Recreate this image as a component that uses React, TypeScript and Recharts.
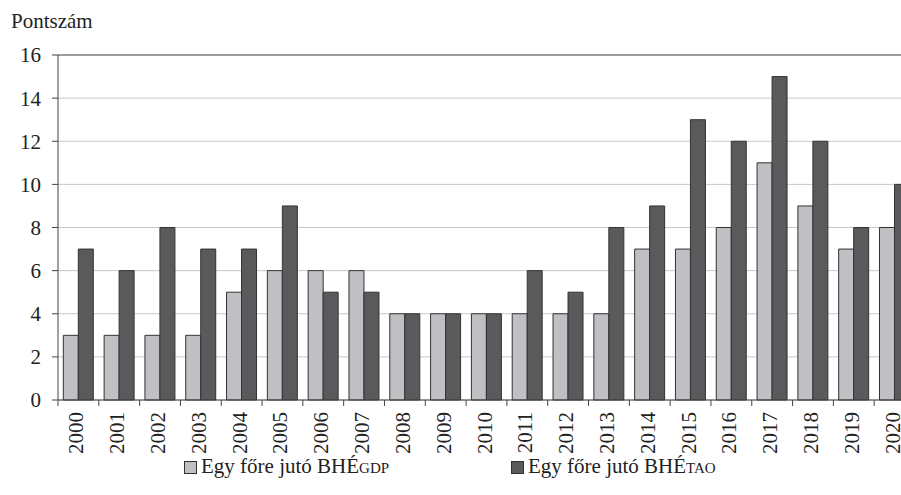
import { BarChart, Bar, XAxis, YAxis, CartesianGrid, Legend, ReferenceLine } from "recharts";

const years = [
  "2000", "2001", "2002", "2003", "2004", "2005", "2006", "2007", "2008", "2009", "2010",
  "2011", "2012", "2013", "2014", "2015", "2016", "2017", "2018", "2019", "2020",
];
const gdpValues = [3, 3, 3, 3, 5, 6, 6, 6, 4, 4, 4, 4, 4, 4, 7, 7, 8, 11, 9, 7, 8];
const taoValues = [7, 6, 8, 7, 7, 9, 5, 5, 4, 4, 4, 6, 5, 8, 9, 13, 12, 15, 12, 8, 10];
const yTicks = [0, 2, 4, 6, 8, 10, 12, 14, 16];

const FONT = "'Liberation Serif', serif";
const FS = 21;
const CHART_W = 930;
const CHART_H = 495;
const Y_W = 58;
const RIGHT = 15;
const BAND = (CHART_W - Y_W - RIGHT) / years.length;

const data = years.map((year, i) => ({ year, gdp: gdpValues[i], tao: taoValues[i] }));

const YearTick = (props: any) => {
  const { x, y, payload } = props;
  return (
    <g>
      <line x1={x - BAND / 2} x2={x - BAND / 2} y1={y} y2={y + 6} stroke="#444" />
      <text
        transform={`translate(${x + 5},${y + 12}) rotate(-90)`}
        textAnchor="end"
        fontSize={FS}
        fontFamily={FONT}
        fill="#222"
      >
        {payload.value}
      </text>
    </g>
  );
};

const LegendBox = () => {
  const item = (color: string, sub: string, left: number) => (
    <div style={{ position: "absolute", left, top: 0, display: "flex", alignItems: "center", whiteSpace: "nowrap" }}>
      <span
        style={{
          display: "inline-block",
          width: 13,
          height: 13,
          background: color,
          border: "1px solid #333",
          marginRight: 4,
          boxSizing: "border-box",
        }}
      />
      <span style={{ fontSize: FS, color: "#222" }}>
        Egy főre jutó BHÉ<span style={{ fontSize: 15 }}>{sub}</span>
      </span>
    </div>
  );
  return (
    <div style={{ position: "relative", height: 44, width: CHART_W, fontFamily: FONT, lineHeight: "30px" }}>
      {item("#c0c0c4", "GDP", 184)}
      {item("#5a5a5c", "TAO", 511)}
    </div>
  );
};

export default function App() {
  return (
    <div style={{ position: "absolute", left: 0, top: 0, width: 901, height: 495, overflow: "hidden", background: "#fff" }}>
      <div style={{ position: "absolute", left: 11, top: 9, fontFamily: FONT, fontSize: FS, color: "#222", lineHeight: "24px" }}>
        Pontszám
      </div>
      <BarChart
        width={CHART_W}
        height={CHART_H}
        data={data}
        margin={{ top: 55, right: RIGHT, left: 0, bottom: 0 }}
        barCategoryGap="13%"
        barGap={0}
      >
        <CartesianGrid vertical={false} stroke="#c8c8c8" />
        <ReferenceLine y={16} stroke="#555" />
        <XAxis
          dataKey="year"
          height={51}
          interval={0}
          tickSize={0}
          tickMargin={0}
          tick={<YearTick />}
          axisLine={{ stroke: "#444" }}
        />
        <YAxis
          width={Y_W}
          domain={[0, 16]}
          ticks={yTicks}
          interval={0}
          tickSize={6}
          tickMargin={11}
          tickLine={{ stroke: "#444" }}
          axisLine={{ stroke: "#444" }}
          tick={{ fontSize: FS, fontFamily: FONT, fill: "#222" }}
        />
        <Legend
          verticalAlign="bottom"
          content={() => <LegendBox />}
          wrapperStyle={{ left: 0, width: CHART_W }}
        />
        <Bar dataKey="gdp" fill="#c0c0c4" stroke="#333" strokeWidth={1} isAnimationActive={false} />
        <Bar dataKey="tao" fill="#5a5a5c" stroke="#333" strokeWidth={1} isAnimationActive={false} />
      </BarChart>
    </div>
  );
}
